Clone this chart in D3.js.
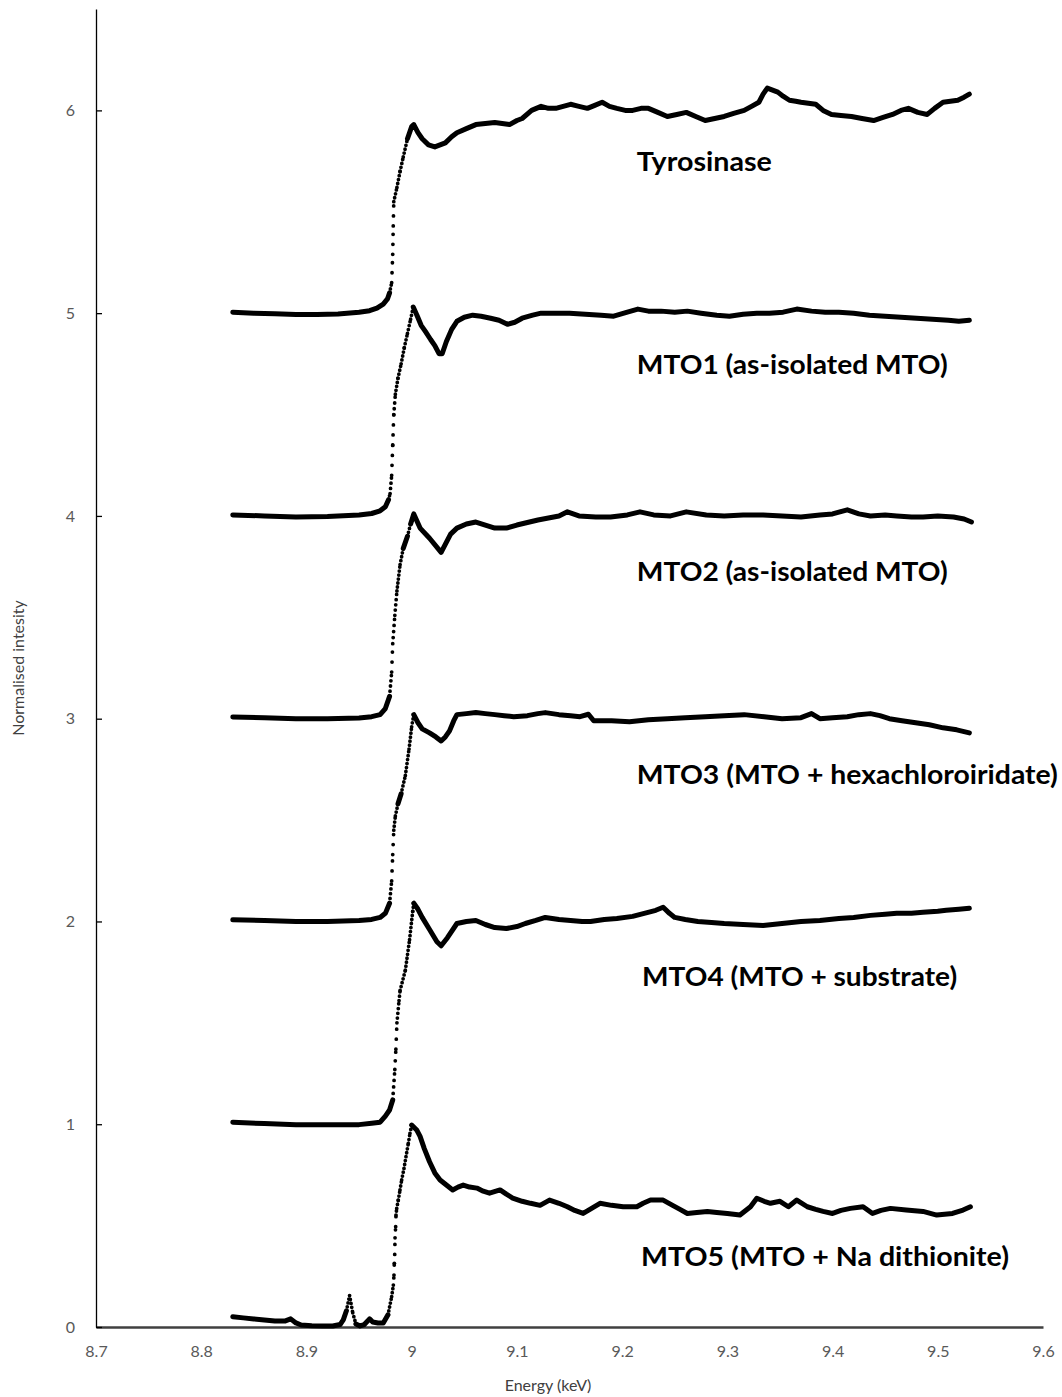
<!DOCTYPE html>
<html>
<head>
<meta charset="utf-8">
<script src="https://cdn.jsdelivr.net/npm/d3@7"></script>
<style>
  html, body { margin: 0; padding: 0; background: #ffffff; }
  svg { display: block; }
</style>
</head>
<body>
<svg id="chart" width="1062" height="1397"></svg>
<script>
// XANES spectra at the Cu K-edge, stacked with vertical offsets: [energy keV, normalised intensity]
const tyrosinase = [[8.83,5.005],[8.85,5.0],[8.87,4.997],[8.89,4.993],[8.91,4.993],[8.93,4.996],[8.95,5.004],[8.96,5.012],[8.967,5.025],[8.973,5.045],[8.977,5.07],[8.979,5.10],[8.981,5.15],[8.982,5.29],[8.9825,5.43],[8.983,5.55],[8.986,5.62],[8.989,5.70],[8.992,5.77],[8.996,5.86],[9.0,5.92],[9.002,5.93],[9.006,5.89],[9.01,5.86],[9.016,5.83],[9.022,5.82],[9.027,5.83],[9.032,5.84],[9.038,5.87],[9.043,5.89],[9.052,5.91],[9.061,5.93],[9.07,5.935],[9.079,5.94],[9.086,5.935],[9.093,5.93],[9.1,5.95],[9.105,5.96],[9.114,6.0],[9.123,6.02],[9.13,6.01],[9.137,6.01],[9.144,6.02],[9.151,6.03],[9.159,6.02],[9.167,6.01],[9.174,6.025],[9.181,6.04],[9.188,6.02],[9.195,6.01],[9.203,6.0],[9.21,6.0],[9.218,6.01],[9.225,6.01],[9.234,5.99],[9.243,5.97],[9.252,5.98],[9.261,5.99],[9.27,5.97],[9.279,5.95],[9.288,5.96],[9.297,5.97],[9.306,5.985],[9.316,6.0],[9.323,6.02],[9.33,6.04],[9.334,6.08],[9.338,6.11],[9.343,6.1],[9.348,6.09],[9.353,6.07],[9.359,6.05],[9.365,6.045],[9.37,6.04],[9.377,6.035],[9.384,6.03],[9.391,6.0],[9.399,5.98],[9.408,5.975],[9.418,5.97],[9.428,5.96],[9.439,5.95],[9.448,5.965],[9.457,5.98],[9.465,6.0],[9.472,6.01],[9.481,5.99],[9.49,5.98],[9.497,6.01],[9.505,6.04],[9.512,6.045],[9.519,6.05],[9.525,6.065],[9.53,6.08]];

const mto1 = [[8.83,4.005],[8.86,4.0],[8.89,3.995],[8.92,3.997],[8.95,4.005],[8.962,4.012],[8.97,4.025],[8.975,4.045],[8.978,4.08],[8.9795,4.11],[8.981,4.2],[8.982,4.35],[8.983,4.5],[8.9845,4.6],[8.987,4.68],[8.99,4.75],[8.993,4.83],[8.996,4.9],[8.999,4.97],[9.0015,5.03],[9.005,4.99],[9.009,4.94],[9.013,4.91],[9.018,4.87],[9.022,4.84],[9.026,4.8],[9.029,4.8],[9.033,4.86],[9.038,4.92],[9.043,4.96],[9.05,4.98],[9.058,4.99],[9.066,4.985],[9.075,4.975],[9.083,4.965],[9.091,4.945],[9.098,4.955],[9.105,4.975],[9.115,4.99],[9.123,5.0],[9.135,5.0],[9.15,5.0],[9.165,4.995],[9.18,4.99],[9.192,4.985],[9.205,5.005],[9.215,5.02],[9.225,5.01],[9.237,5.01],[9.25,5.005],[9.262,5.01],[9.275,5.0],[9.29,4.99],[9.302,4.985],[9.315,4.995],[9.328,5.0],[9.34,5.0],[9.353,5.005],[9.366,5.02],[9.38,5.01],[9.393,5.005],[9.406,5.005],[9.42,5.0],[9.435,4.99],[9.45,4.985],[9.465,4.98],[9.48,4.975],[9.495,4.97],[9.51,4.965],[9.52,4.96],[9.53,4.965]];

const mto2 = [[8.83,3.008],[8.86,3.005],[8.89,3.0],[8.92,3.0],[8.95,3.003],[8.962,3.01],[8.97,3.02],[8.975,3.05],[8.979,3.11],[8.981,3.23],[8.982,3.37],[8.984,3.51],[8.986,3.63],[8.989,3.76],[8.992,3.84],[8.996,3.9],[8.999,3.96],[9.002,4.01],[9.008,3.94],[9.017,3.89],[9.028,3.82],[9.037,3.91],[9.043,3.94],[9.052,3.96],[9.061,3.97],[9.07,3.955],[9.079,3.94],[9.09,3.94],[9.1,3.955],[9.108,3.965],[9.12,3.98],[9.13,3.99],[9.14,4.0],[9.148,4.02],[9.159,4.0],[9.175,3.995],[9.189,3.995],[9.205,4.005],[9.217,4.02],[9.23,4.005],[9.246,4.0],[9.261,4.02],[9.28,4.005],[9.297,4.0],[9.315,4.005],[9.334,4.005],[9.352,4.0],[9.37,3.995],[9.388,4.005],[9.4,4.01],[9.414,4.03],[9.425,4.01],[9.436,4.0],[9.45,4.005],[9.461,4.0],[9.475,3.995],[9.486,3.995],[9.5,4.0],[9.515,3.995],[9.525,3.985],[9.532,3.97]];

const mto3 = [[8.83,2.008],[8.86,2.005],[8.89,2.0],[8.92,2.0],[8.95,2.005],[8.962,2.01],[8.97,2.02],[8.975,2.04],[8.979,2.09],[8.981,2.2],[8.982,2.33],[8.983,2.45],[8.9845,2.52],[8.987,2.58],[8.99,2.63],[8.994,2.72],[8.9975,2.85],[9.0,2.96],[9.002,3.02],[9.006,2.98],[9.01,2.95],[9.017,2.93],[9.023,2.91],[9.028,2.89],[9.032,2.91],[9.036,2.94],[9.04,2.99],[9.043,3.02],[9.052,3.025],[9.061,3.03],[9.07,3.025],[9.079,3.02],[9.088,3.015],[9.097,3.01],[9.11,3.015],[9.12,3.025],[9.127,3.03],[9.14,3.02],[9.151,3.015],[9.16,3.01],[9.168,3.022],[9.173,2.99],[9.19,2.99],[9.207,2.985],[9.225,2.995],[9.243,3.0],[9.26,3.005],[9.279,3.01],[9.297,3.015],[9.316,3.02],[9.335,3.01],[9.352,3.0],[9.37,3.005],[9.38,3.025],[9.388,3.0],[9.4,3.005],[9.414,3.01],[9.425,3.02],[9.436,3.025],[9.445,3.015],[9.454,3.0],[9.466,2.99],[9.479,2.98],[9.492,2.97],[9.505,2.955],[9.518,2.945],[9.53,2.93]];

const mto4 = [[8.83,1.01],[8.86,1.003],[8.89,0.997],[8.92,0.997],[8.95,0.998],[8.962,1.005],[8.97,1.01],[8.975,1.04],[8.979,1.07],[8.982,1.12],[8.984,1.27],[8.985,1.37],[8.986,1.5],[8.988,1.61],[8.989,1.66],[8.994,1.76],[8.998,1.91],[9.001,2.05],[9.002,2.09],[9.006,2.06],[9.01,2.02],[9.017,1.96],[9.024,1.9],[9.028,1.88],[9.034,1.92],[9.043,1.99],[9.052,2.0],[9.061,2.005],[9.07,1.985],[9.079,1.97],[9.09,1.965],[9.1,1.975],[9.108,1.99],[9.118,2.005],[9.127,2.02],[9.14,2.01],[9.151,2.005],[9.162,2.0],[9.17,2.0],[9.183,2.01],[9.195,2.015],[9.21,2.025],[9.221,2.04],[9.232,2.055],[9.239,2.07],[9.245,2.04],[9.25,2.02],[9.26,2.01],[9.272,2.0],[9.285,1.995],[9.297,1.99],[9.315,1.985],[9.334,1.98],[9.352,1.99],[9.37,2.0],[9.388,2.005],[9.406,2.015],[9.42,2.02],[9.436,2.03],[9.45,2.035],[9.461,2.04],[9.475,2.04],[9.486,2.045],[9.5,2.05],[9.508,2.055],[9.52,2.06],[9.53,2.065]];

const mto5 = [[8.83,0.05],[8.84,0.045],[8.85,0.04],[8.86,0.035],[8.87,0.03],[8.88,0.03],[8.885,0.04],[8.89,0.02],[8.895,0.01],[8.905,0.006],[8.915,0.005],[8.925,0.005],[8.932,0.012],[8.935,0.035],[8.938,0.08],[8.941,0.155],[8.944,0.07],[8.947,0.015],[8.951,0.005],[8.955,0.012],[8.96,0.04],[8.963,0.025],[8.968,0.02],[8.973,0.02],[8.9775,0.06],[8.981,0.15],[8.9826,0.207],[8.9832,0.256],[8.9835,0.314],[8.9839,0.358],[8.9842,0.44],[8.9848,0.495],[8.9851,0.552],[8.9858,0.585],[8.9873,0.626],[8.9889,0.676],[8.9905,0.725],[8.9927,0.782],[8.9946,0.84],[8.9968,0.905],[8.9984,0.955],[9.0,0.996],[9.005,0.97],[9.008,0.94],[9.012,0.88],[9.017,0.815],[9.022,0.76],[9.027,0.725],[9.033,0.7],[9.039,0.676],[9.044,0.69],[9.049,0.7],[9.055,0.69],[9.062,0.685],[9.068,0.67],[9.074,0.66],[9.084,0.676],[9.09,0.655],[9.096,0.636],[9.105,0.62],[9.113,0.61],[9.122,0.6],[9.131,0.626],[9.14,0.61],[9.148,0.593],[9.155,0.575],[9.163,0.56],[9.171,0.585],[9.179,0.61],[9.19,0.6],[9.201,0.593],[9.214,0.593],[9.22,0.61],[9.227,0.626],[9.239,0.626],[9.248,0.6],[9.255,0.58],[9.262,0.56],[9.271,0.565],[9.281,0.57],[9.29,0.565],[9.3,0.56],[9.312,0.552],[9.322,0.593],[9.328,0.635],[9.335,0.62],[9.341,0.61],[9.35,0.62],[9.358,0.593],[9.366,0.626],[9.376,0.593],[9.384,0.58],[9.391,0.57],[9.4,0.56],[9.408,0.575],[9.417,0.585],[9.429,0.593],[9.438,0.56],[9.446,0.575],[9.455,0.585],[9.47,0.577],[9.486,0.57],[9.499,0.552],[9.514,0.56],[9.524,0.577],[9.531,0.593]];

const seriesData = [tyrosinase, mto1, mto2, mto3, mto4, mto5];
const seriesLabels = [
  "Tyrosinase",
  "MTO1 (as-isolated MTO)",
  "MTO2 (as-isolated MTO)",
  "MTO3 (MTO + hexachloroiridate)",
  "MTO4 (MTO + substrate)",
  "MTO5 (MTO + Na dithionite)"
];
// label anchor in data units: [energy, intensity]
const labelAnchors = [[9.214, 5.7], [9.214, 4.7], [9.214, 3.68], [9.214, 2.68], [9.219, 1.68], [9.218, 0.3]];
const labelWidths = [135, 311, 311, 421, 315, 368];

const xTicks = [8.7, 8.8, 8.9, 9.0, 9.1, 9.2, 9.3, 9.4, 9.5, 9.6];
const yTicks = [0, 1, 2, 3, 4, 5, 6];
const xTitle = "Energy (keV)";
const yTitle = "Normalised intesity";

const svg = d3.select("#chart");
const x = d3.scaleLinear().domain([8.7, 9.6]).range([96, 1043]);
const y = d3.scaleLinear().domain([0, 6.5]).range([1327, 9]);

const tickFont = "Lato, 'Open Sans', sans-serif";

// ---- axes ----
const xAxis = d3.axisBottom(x).tickValues(xTicks).tickSize(0).tickPadding(19)
  .tickFormat(d => String(+d.toFixed(1)));
const gx = svg.append("g").attr("transform", `translate(0,${y(0)})`).call(xAxis);
gx.select(".domain").attr("stroke", "#404040").attr("stroke-width", 2.4);
gx.selectAll("text").attr("fill", "#595959").style("font-family", tickFont).style("font-size", "16px");

const yAxis = d3.axisLeft(y).tickValues(yTicks).tickSizeInner(-6).tickSizeOuter(0).tickPadding(21)
  .tickFormat(d3.format("d"));
const gy = svg.append("g").attr("transform", `translate(${x(8.7)},0)`).call(yAxis);
gy.select(".domain").attr("stroke", "#000").attr("stroke-width", 1.3);
gy.selectAll(".tick line").attr("stroke", "#000").attr("stroke-width", 1.3);
gy.selectAll("text").attr("fill", "#595959").style("font-family", tickFont).style("font-size", "16px");

svg.append("text")
  .attr("x", 548).attr("y", 1391)
  .attr("text-anchor", "middle")
  .attr("fill", "#404040")
  .style("font-family", tickFont).style("font-size", "16px")
  .text(xTitle);

svg.append("text")
  .attr("transform", `translate(24,${y(3.25)}) rotate(-90)`)
  .attr("text-anchor", "middle")
  .attr("fill", "#404040")
  .style("font-family", tickFont).style("font-size", "16px")
  .text(yTitle);

// ---- spectra ----
// dense scatter appears as a thick band where points crowd together, and as
// separate dots on the steep absorption edge where they spread apart
const line = d3.line().x(d => x(d[0])).y(d => y(d[1]));
const plot = svg.append("g");

seriesData.forEach(data => {
  let run = [data[0]];
  const flushRun = () => {
    if (run.length > 1) {
      plot.append("path").attr("d", line(run))
        .attr("fill", "none").attr("stroke", "#000")
        .attr("stroke-width", 5).attr("stroke-linejoin", "round").attr("stroke-linecap", "round");
    }
  };
  for (let i = 1; i < data.length; i++) {
    const a = data[i - 1], b = data[i];
    const dx = Math.abs(x(b[0]) - x(a[0]));
    const dy = Math.abs(y(b[1]) - y(a[1]));
    const slope = dy / Math.max(dx, 0.01);
    if (slope > 3.5 && dy > 3) {
      flushRun();
      run = [b];
      const gap = Math.max(4, Math.min(10, 0.45 * Math.sqrt(1 + slope * slope)));
      plot.append("path").attr("d", line([a, b]))
        .attr("fill", "none").attr("stroke", "#000")
        .attr("stroke-width", 3.8).attr("stroke-linecap", "round")
        .attr("stroke-dasharray", `0 ${gap}`);
    } else {
      run.push(b);
    }
  }
  flushRun();
});

// ---- series labels ----
seriesLabels.forEach((t, i) => {
  svg.append("text")
    .attr("x", x(labelAnchors[i][0])).attr("y", y(labelAnchors[i][1]))
    .attr("fill", "#000")
    .attr("textLength", labelWidths[i]).attr("lengthAdjust", "spacingAndGlyphs")
    .style("font-family", tickFont).style("font-weight", "700").style("font-size", "26px")
    .text(t);
});
</script>
</body>
</html>
